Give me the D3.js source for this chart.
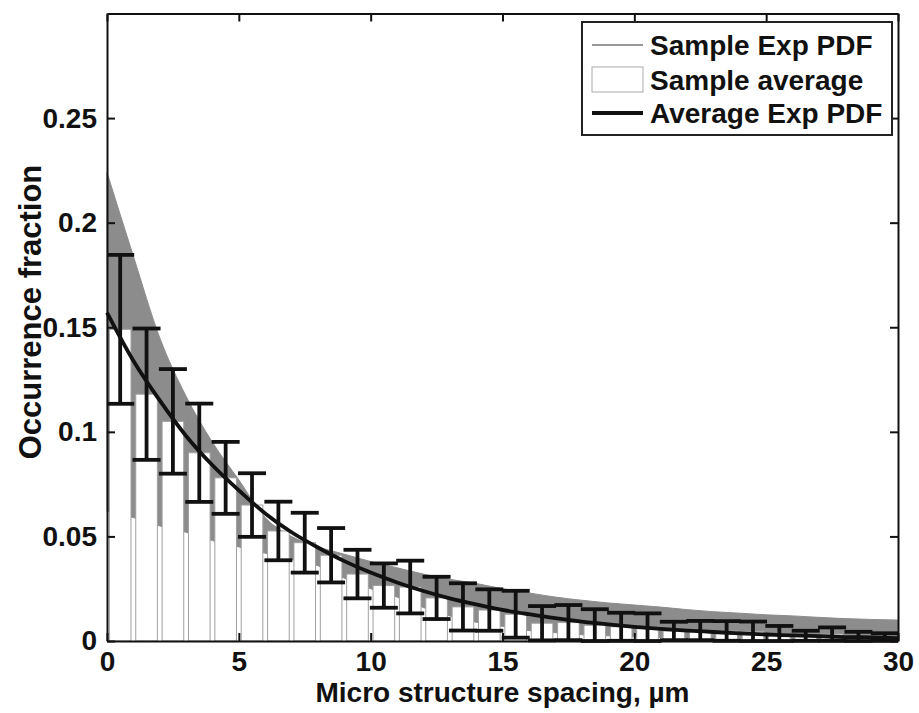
<!DOCTYPE html>
<html>
<head>
<meta charset="utf-8">
<script src="https://cdn.jsdelivr.net/npm/d3@7"></script>
<style>
  body { margin: 0; background: #fff; }
  text { font-family: "Liberation Sans", Arial, sans-serif; font-weight: bold; }
</style>
</head>
<body>
<div id="chart-area"></div>
<script>
// histogram bins (um), sample average and error half-widths
var binCenters = [0.5, 1.5, 2.5, 3.5, 4.5, 5.5, 6.5, 7.5, 8.5, 9.5, 10.5, 11.5, 12.5, 13.5, 14.5,
                  15.5, 16.5, 17.5, 18.5, 19.5, 20.5, 21.5, 22.5, 23.5, 24.5, 25.5, 26.5, 27.5, 28.5, 29.5];
var sampleAverage = [0.149, 0.118, 0.105, 0.090, 0.078, 0.065, 0.0526, 0.047, 0.041, 0.032,
                     0.0265, 0.0258, 0.0206, 0.0163, 0.0148, 0.0128, 0.0085, 0.0088, 0.0075, 0.0068,
                     0.0066, 0.0048, 0.0050, 0.0048, 0.0046, 0.0036, 0.0025, 0.0033, 0.0022, 0.0019];
var errHalf = [0.0356, 0.0314, 0.025, 0.0235, 0.0172, 0.0152, 0.014, 0.0143, 0.013, 0.0116,
               0.0106, 0.0126, 0.0101, 0.0113, 0.0099, 0.0112, 0.0082, 0.0084, 0.0077, 0.0067,
               0.0066, 0.0044, 0.0046, 0.0047, 0.0047, 0.0036, 0.0024, 0.0032, 0.0022, 0.0018];

// curves read at whole microns
var curveX = [0, 1, 2, 3, 4, 5, 6, 7, 8, 9, 10, 11, 12, 13, 14, 15,
              16, 17, 18, 19, 20, 21, 22, 23, 24, 25, 26, 27, 28, 29, 30];
var avgExpPdf = [0.157, 0.134, 0.115, 0.098, 0.084, 0.072, 0.061, 0.052, 0.0447, 0.0382, 0.0327,
                 0.028, 0.0239, 0.0204, 0.0175, 0.0149, 0.0128, 0.0109, 0.0093, 0.008, 0.0068,
                 0.0058, 0.005, 0.0043, 0.0036, 0.0031, 0.0027, 0.0023, 0.0019, 0.0017, 0.0014];
var bandUpper = [0.224, 0.184, 0.145, 0.117, 0.095, 0.077, 0.059, 0.050, 0.045, 0.0415, 0.038,
                 0.035, 0.032, 0.0295, 0.0275, 0.025, 0.023, 0.021, 0.0195, 0.0182, 0.0172,
                 0.0162, 0.015, 0.014, 0.0133, 0.0125, 0.012, 0.0113, 0.0107, 0.0103, 0.0100];
var bandLower = [0.062, 0.059, 0.055, 0.052, 0.048, 0.045, 0.042, 0.039, 0.036, 0.030, 0.025,
                 0.021, 0.016, 0.012, 0.009, 0.007, 0.005, 0.004, 0.003, 0.0025, 0.002,
                 0.0017, 0.0014, 0.0012, 0.001, 0.0008, 0.0007, 0.0006, 0.0005, 0.0004, 0.0003];

var xTicks = [0, 5, 10, 15, 20, 25, 30];
var yTicks = [0, 0.05, 0.1, 0.15, 0.2, 0.25];
var yTickLabels = ["0", "0.05", "0.1", "0.15", "0.2", "0.25"];
var legendLabels = ["Sample Exp PDF", "Sample average", "Average Exp PDF"];

var W = 919, H = 713;
var box = {left: 107, right: 898, top: 13.5, bottom: 641};
var fontSize = "28px";

var svg = d3.select("#chart-area").append("svg")
    .attr("width", W)
    .attr("height", H);

var x = d3.scaleLinear().domain([0, 30]).range([box.left, box.right]);
var y = d3.scaleLinear().domain([0, 0.3]).range([box.bottom, box.top]);

var plot = svg.append("g");

// gray band of sample exp pdfs
var band = d3.area()
    .x(function(d, i) { return x(curveX[i]); })
    .y0(function(d, i) { return y(bandLower[i]); })
    .y1(function(d, i) { return y(bandUpper[i]); })
    .curve(d3.curveMonotoneX);

plot.append("path")
    .datum(curveX)
    .attr("d", band)
    .attr("fill", "#8c8c8c")
    .attr("stroke", "#8c8c8c")
    .attr("stroke-width", 1);

// bars
var barW = x(0.82) - x(0);
plot.selectAll("rect.bar")
    .data(binCenters)
    .enter().append("rect")
    .attr("class", "bar")
    .attr("x", function(d) { return Math.max(box.left, x(d) - barW / 2); })
    .attr("width", function(d) { return x(d) + barW / 2 - Math.max(box.left, x(d) - barW / 2); })
    .attr("y", function(d, i) { return y(sampleAverage[i]); })
    .attr("height", function(d, i) { return box.bottom - y(sampleAverage[i]); })
    .attr("fill", "#fff")
    .attr("stroke", "#a0a0a0")
    .attr("stroke-width", 1);

// error bars
var capHalf = 14;
var eb = plot.selectAll("g.err")
    .data(binCenters)
    .enter().append("g")
    .attr("class", "err")
    .attr("stroke", "#111")
    .attr("stroke-width", 3.8);

function hi(i) { return y(sampleAverage[i] + errHalf[i]); }
function lo(i) { return y(Math.max(0, sampleAverage[i] - errHalf[i])); }

eb.append("line")
    .attr("x1", function(d) { return x(d); })
    .attr("x2", function(d) { return x(d); })
    .attr("y1", function(d, i) { return hi(i); })
    .attr("y2", function(d, i) { return lo(i); });

eb.append("line")
    .attr("x1", function(d) { return Math.max(box.left, x(d) - capHalf); })
    .attr("x2", function(d) { return Math.min(box.right, x(d) + capHalf); })
    .attr("y1", function(d, i) { return hi(i); })
    .attr("y2", function(d, i) { return hi(i); });

eb.append("line")
    .attr("x1", function(d) { return Math.max(box.left, x(d) - capHalf); })
    .attr("x2", function(d) { return Math.min(box.right, x(d) + capHalf); })
    .attr("y1", function(d, i) { return lo(i); })
    .attr("y2", function(d, i) { return lo(i); });

// average exp pdf
var line = d3.line()
    .x(function(d, i) { return x(curveX[i]); })
    .y(function(d) { return y(d); })
    .curve(d3.curveMonotoneX);

plot.append("path")
    .datum(avgExpPdf)
    .attr("d", line)
    .attr("fill", "none")
    .attr("stroke", "#111")
    .attr("stroke-width", 3.8);

// axes, box style with inward ticks
var tickLen = 8;
function axisOpts(ax) {
    return ax.tickSizeInner(-tickLen).tickSizeOuter(0).tickPadding(10);
}

svg.append("g")
    .attr("transform", "translate(0," + box.bottom + ")")
    .call(axisOpts(d3.axisBottom(x).tickValues(xTicks).tickFormat(d3.format("d"))));
svg.append("g")
    .attr("transform", "translate(0," + box.top + ")")
    .call(axisOpts(d3.axisTop(x).tickValues(xTicks).tickFormat("")));
svg.append("g")
    .attr("transform", "translate(" + box.left + ",0)")
    .call(axisOpts(d3.axisLeft(y).tickValues(yTicks).tickFormat(function(d, i) { return yTickLabels[i]; })));
svg.append("g")
    .attr("transform", "translate(" + box.right + ",0)")
    .call(axisOpts(d3.axisRight(y).tickValues(yTicks).tickFormat("")));

svg.selectAll(".domain").attr("stroke", "#111").attr("stroke-width", 2);
svg.selectAll(".tick line").attr("stroke", "#111").attr("stroke-width", 2);
svg.selectAll(".tick text")
    .attr("font-size", fontSize)
    .attr("font-family", "Liberation Sans, Arial, sans-serif")
    .attr("font-weight", "bold")
    .attr("fill", "#111");

// axis labels
svg.append("text")
    .attr("x", (box.left + box.right) / 2)
    .attr("y", 702)
    .attr("text-anchor", "middle")
    .attr("font-size", fontSize)
    .attr("fill", "#111")
    .text("Micro structure spacing, \u00b5m");

svg.append("text")
    .attr("transform", "translate(41,312) rotate(-90)")
    .attr("text-anchor", "middle")
    .attr("font-size", "31px")
    .attr("fill", "#111")
    .text("Occurrence fraction");

// legend
var legend = svg.append("g").attr("transform", "translate(582,22)");
legend.append("rect")
    .attr("width", 310)
    .attr("height", 113)
    .attr("fill", "#fff")
    .attr("stroke", "#222")
    .attr("stroke-width", 2);

legend.append("line")
    .attr("x1", 10).attr("x2", 61).attr("y1", 23).attr("y2", 23)
    .attr("stroke", "#999").attr("stroke-width", 2);
legend.append("rect")
    .attr("x", 10).attr("y", 45).attr("width", 51).attr("height", 25)
    .attr("fill", "#fff").attr("stroke", "#aaa").attr("stroke-width", 1);
legend.append("line")
    .attr("x1", 10).attr("x2", 61).attr("y1", 91).attr("y2", 91)
    .attr("stroke", "#111").attr("stroke-width", 4);

legendLabels.forEach(function(label, i) {
    legend.append("text")
        .attr("x", 68)
        .attr("y", [23, 58, 91][i])
        .attr("dy", "0.36em")
        .attr("font-size", fontSize)
        .attr("fill", "#111")
        .text(label);
});
</script>
</body>
</html>
